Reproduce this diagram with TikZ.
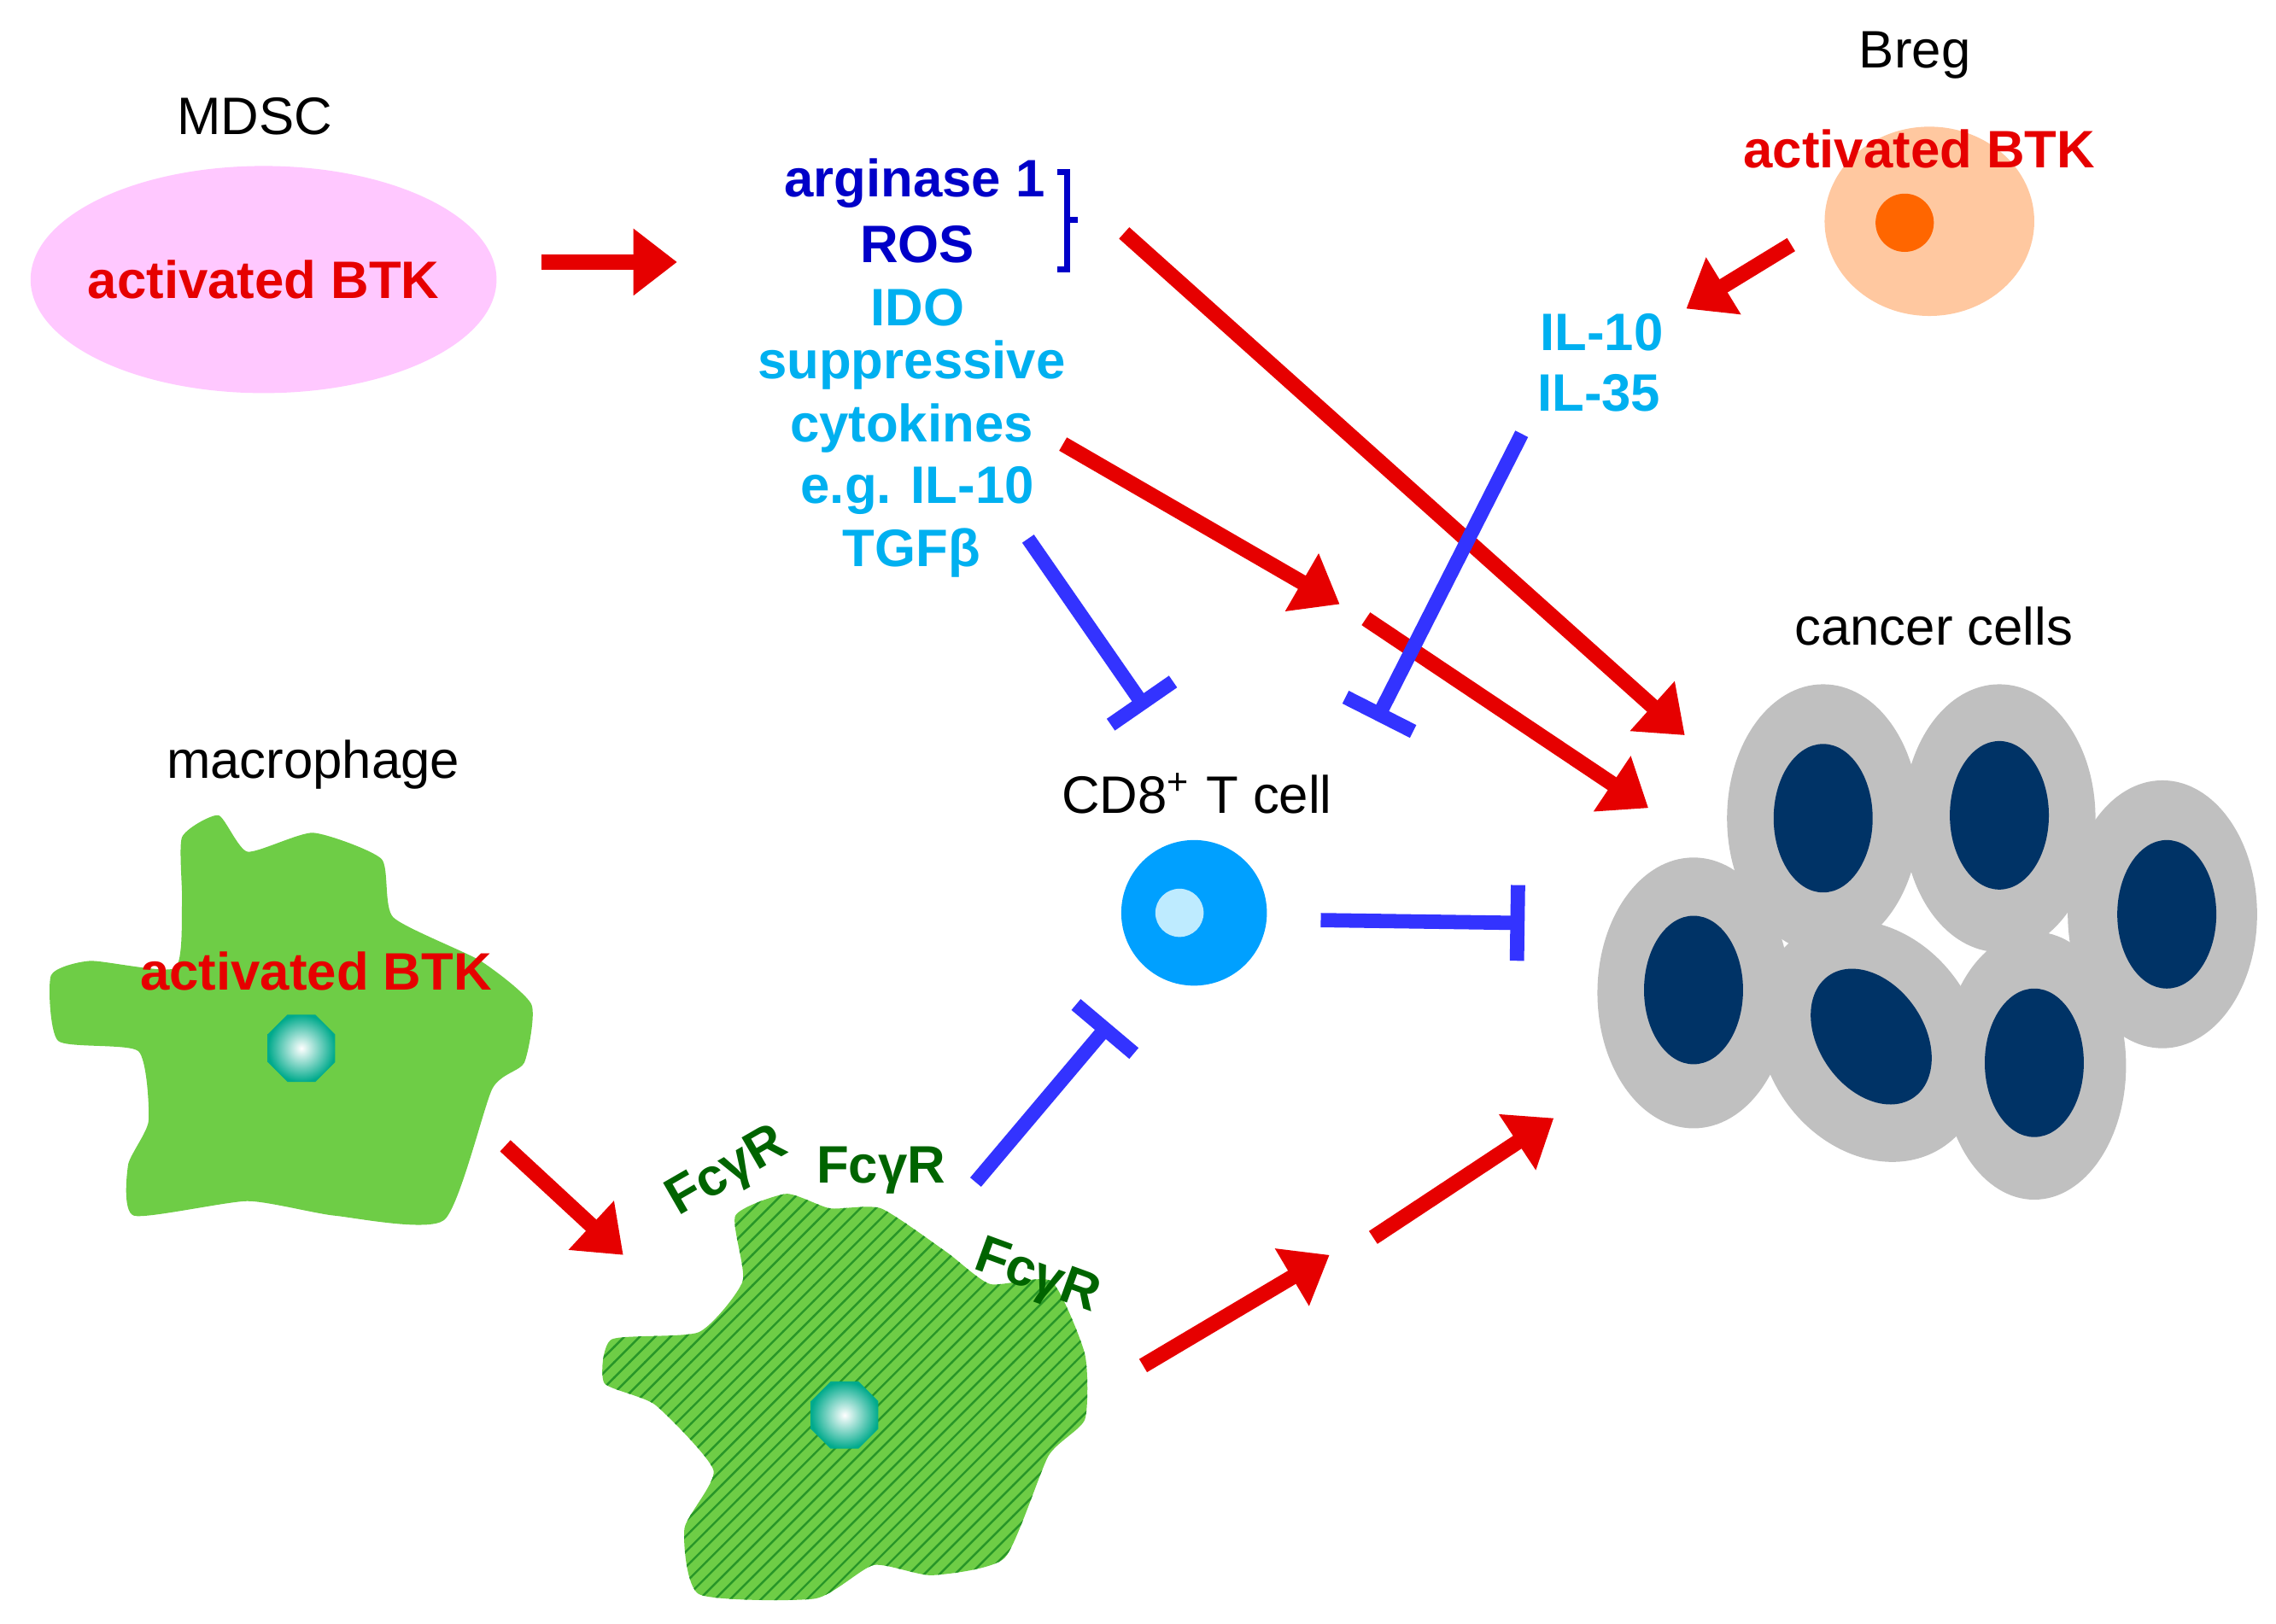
\documentclass[tikz,border=0pt]{standalone}
\usepackage{fontspec}
\setmainfont{Liberation Sans}
\usetikzlibrary{arrows.meta,patterns,shapes.geometric}
\definecolor{redA}{RGB}{230,0,0}
\definecolor{blueI}{RGB}{51,51,255}
\definecolor{dblue}{RGB}{0,0,200}
\definecolor{lblue}{RGB}{0,176,240}
\definecolor{pinkC}{RGB}{255,200,255}
\definecolor{peach}{RGB}{255,200,160}
\definecolor{orangeC}{RGB}{255,102,0}
\definecolor{tcell}{RGB}{0,160,255}
\definecolor{tin}{RGB}{190,235,255}
\definecolor{grayC}{RGB}{192,192,192}
\definecolor{navy}{RGB}{0,51,102}
\definecolor{greenM}{RGB}{110,205,70}
\definecolor{dgreen}{RGB}{0,100,0}
\definecolor{hatch}{RGB}{40,150,40}
\definecolor{teal}{RGB}{0,170,140}
\tikzset{
 ra/.style={draw=redA,line width=3pt,-{Triangle[length=3mm,width=4.4mm]}},
 inh/.style={draw=blueI,line width=2.8pt,-{Bar[width=5.2mm]}},
 lab/.style={font=\fontsize{10.3}{12}\selectfont,text=black},
 btk/.style={font=\bfseries\fontsize{10.3}{12}\selectfont,text=redA},
 dk/.style={font=\bfseries\fontsize{10.3}{12}\selectfont,text=dblue},
 lt/.style={font=\bfseries\fontsize{10.3}{12}\selectfont,text=lblue},
 fc/.style={font=\bfseries\fontsize{10.3}{12}\selectfont,text=dgreen},
 cell/.style={fill=grayC,draw=none},
 nuc/.style={fill=navy,draw=none},
 nucl/.style={regular polygon,regular polygon sides=8,minimum size=5mm,inner sep=0pt,inner color=white,outer color=teal,draw=none}
}
\begin{document}
\begin{tikzpicture}[x=0.1mm,y=-0.1mm]
\useasboundingbox (0,0) rectangle (1563,1115);
% MDSC
\node[lab] (mdscl) at (175,80) {MDSC};
\node[ellipse,fill=pinkC,minimum width=32mm,minimum height=15.6mm] (mdsc) at (181,192) {};
\node[btk] (mbtk) at (181,192) {activated BTK};
\coordinate (a1s) at (372,180); \coordinate (a1e) at (465,180);
\draw[ra] (a1s) -- (a1e);
% factors
\node[dk] (arg) at (628,126) {arginase 1};
\node[dk] (ros) at (630,168) {ROS};
\draw[dblue,line width=1.2pt] (726,118) -- (733,118) -- (733,185) -- (726,185);
\draw[dblue,line width=1.2pt] (733,151) -- (740,151);
\node[lt] (ido) at (630,211) {IDO};
\node[lt] (sup) at (626,251) {suppressive};
\node[lt] (cyt) at (626,294) {cytokines};
\node[lt] (eg) at (630,337) {e.g. IL-10};
\node[lt] (tgf) at (626,380) {TGFβ};
% Breg
\node[lab] (bregl) at (1315,38) {Breg};
\node[ellipse,fill=peach,minimum width=14.4mm,minimum height=13mm] (breg) at (1325,152) {};
\node[circle,fill=orangeC,minimum size=4mm] (bnuc) at (1308,153) {};
\node[btk] (bbtk) at (1318,102) {activated BTK};
\coordinate (b1s) at (1230,168); \coordinate (b1e) at (1158,212);
\draw[ra] (b1s) -- (b1e);
\node[lt] (il10) at (1100,228) {IL-10};
\node[lt] (il35) at (1098,270) {IL-35};
% CD8
\node[lab] (cd8l) at (822,545) {CD8\textsuperscript{+} T cell};
\node[circle,fill=tcell,minimum size=10mm] (tc) at (820,627) {};
\node[circle,fill=tin,minimum size=3.2mm] (tci) at (810,627) {};
% cancer cells
\node[lab] (ccl) at (1328,430) {cancer cells};
\fill[cell] (1252,562) ellipse (66 and 92);
\fill[nuc] (1252,562) ellipse (34 and 51);
\fill[cell] (1373,562) ellipse (66 and 92);
\fill[nuc] (1373,560) ellipse (34 and 51);
\fill[cell] (1485,628) ellipse (65 and 92);
\fill[nuc] (1488,628) ellipse (34 and 51);
\fill[cell] (1163,682) ellipse (66 and 93);
\fill[nuc] (1163,680) ellipse (34 and 51);
\fill[cell,rotate around={35:(1285,715)}] (1285,715) ellipse (72 and 88);
\fill[nuc,rotate around={35:(1285,712)}] (1285,712) ellipse (36 and 51);
\fill[cell] (1397,732) ellipse (63 and 92);
\fill[nuc] (1397,730) ellipse (34 and 51);
% macrophage 1
\node[lab] (macl) at (215,525) {macrophage};
\fill[greenM] plot[smooth cycle,tension=0.35] coordinates {(125,575) (150,560) (170,585) (215,572) (262,590) (270,630) (330,660) (365,690) (360,730) (338,748) (305,838) (230,835) (170,825) (92,835) (88,800) (102,770) (95,722) (40,715) (35,670) (62,660) (120,665) (125,620)};
\node[nucl] (mn1) at (207,720) {};
\node[btk] (macbtk) at (217,667) {activated BTK};
\coordinate (m1s) at (347,787); \coordinate (m1e) at (428,862);
\draw[ra] (m1s) -- (m1e);
% macrophage 2
\path[fill=greenM] plot[smooth cycle,tension=0.35] coordinates {(420,920) (480,915) (510,880) (505,835) (540,820) (570,830) (605,830) (650,860) (680,882) (722,880) (745,930) (745,975) (720,1000) (690,1070) (640,1082) (600,1075) (560,1098) (480,1095) (470,1050) (490,1010) (450,965) (415,950)};
\path[pattern=north east lines,pattern color=hatch] plot[smooth cycle,tension=0.35] coordinates {(420,920) (480,915) (510,880) (505,835) (540,820) (570,830) (605,830) (650,860) (680,882) (722,880) (745,930) (745,975) (720,1000) (690,1070) (640,1082) (600,1075) (560,1098) (480,1095) (470,1050) (490,1010) (450,965) (415,950)};
\node[nucl] (mn2) at (580,972) {};
\node[fc,rotate=30] (fc1) at (500,806) {FcγR};
\node[fc] (fc2) at (605,804) {FcγR};
\node[fc,rotate=-20] (fc3) at (712,878) {FcγR};
% red arrows to cancer
\coordinate (r1s) at (772,160); \coordinate (r1e) at (1157,505);
\draw[ra] (r1s) -- (r1e);
\coordinate (r2s) at (730,305); \coordinate (r2e) at (920,415);
\draw[ra] (r2s) -- (r2e);
\coordinate (r3s) at (938,425); \coordinate (r3e) at (1132,555);
\draw[ra] (r3s) -- (r3e);
\coordinate (r4s) at (785,938); \coordinate (r4e) at (913,862);
\draw[ra] (r4s) -- (r4e);
\coordinate (r5s) at (943,850); \coordinate (r5e) at (1067,768);
\draw[ra] (r5s) -- (r5e);
% inhibitions
\coordinate (i1s) at (706,370); \coordinate (i1e) at (787,487);
\draw[inh] (i1s) -- (i1e);
\coordinate (i2s) at (1045,298); \coordinate (i2e) at (945,495);
\draw[inh] (i2s) -- (i2e);
\coordinate (i3s) at (907,632); \coordinate (i3e) at (1047,634);
\draw[inh] (i3s) -- (i3e);
\coordinate (i4s) at (670,812); \coordinate (i4e) at (762,703);
\draw[inh] (i4s) -- (i4e);
\end{tikzpicture}
\end{document}
